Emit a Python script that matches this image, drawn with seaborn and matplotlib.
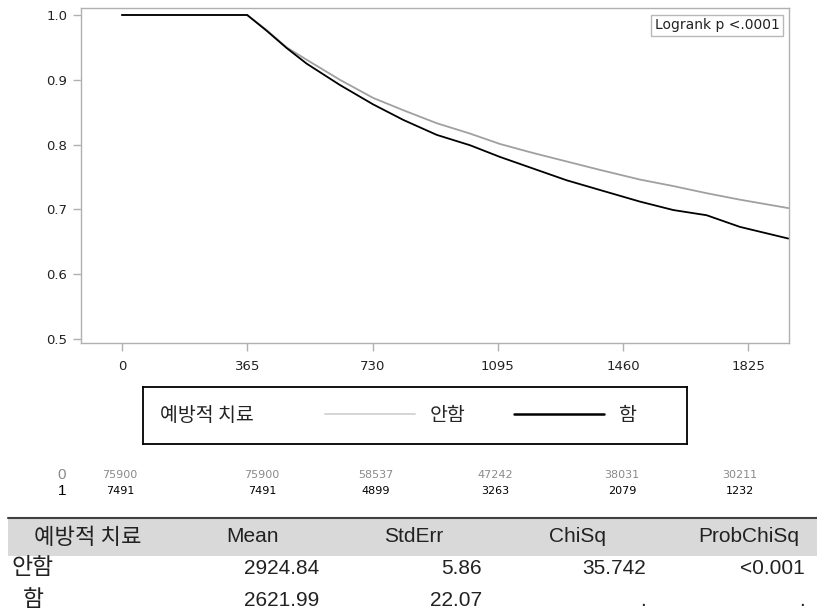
import matplotlib
matplotlib.use("Agg")
import matplotlib.pyplot as plt
from matplotlib.lines import Line2D
from matplotlib.patches import Rectangle
import seaborn as sns
import pandas as pd

# ---------------- data ----------------
days = [0, 365, 421, 480, 538, 635, 732, 820, 917, 1014, 1101, 1198, 1295,
        1392, 1509, 1606, 1703, 1800, 1941]
surv_no = [1.0, 1.0, 0.977, 0.950, 0.931, 0.900, 0.872, 0.853, 0.833, 0.817,
           0.801, 0.787, 0.774, 0.761, 0.746, 0.736, 0.725, 0.715, 0.702]
surv_yes = [1.0, 1.0, 0.976, 0.949, 0.925, 0.892, 0.862, 0.838, 0.815, 0.799,
            0.781, 0.763, 0.745, 0.730, 0.712, 0.699, 0.691, 0.673, 0.655]
groups = ["안함", "함"]
legend_title = "예방적 치료"
x_ticks = [0, 365, 730, 1095, 1460, 1825]
y_ticks = [0.5, 0.6, 0.7, 0.8, 0.9, 1.0]
logrank_text = "Logrank p <.0001"

risk_labels = ["0", "1"]
risk_0 = [75900, 75900, 58537, 47242, 38031, 30211]
risk_1 = [7491, 7491, 4899, 3263, 2079, 1232]

table_header = ["예방적 치료", "Mean", "StdErr", "ChiSq", "ProbChiSq"]
table_rows = ["안함", "함"]
table_mean = ["2924.84", "2621.99"]
table_stderr = ["5.86", "22.07"]
table_chisq = ["35.742", "."]
table_prob = ["<0.001", "."]

# ---------------- figure ----------------
W, H = 817, 613
sns.set_style("white")
plt.rcParams["font.family"] = ["DejaVu Sans", "Noto Sans CJK KR"]

fig = plt.figure(figsize=(W / 100, H / 100), dpi=100)
fig.patch.set_facecolor("white")


def fx(px):
    return px / W


def fy(py):
    return 1 - py / H


ax = fig.add_axes([fx(81), fy(343), fx(708), 335 / H])

df = pd.DataFrame({
    "day": days + days,
    "surv": surv_no + surv_yes,
    "group": [groups[0]] * len(days) + [groups[1]] * len(days),
})
sns.lineplot(data=df, x="day", y="surv", hue="group", hue_order=groups,
             palette={groups[0]: "#a0a0a0", groups[1]: "black"},
             linewidth=1.3, estimator=None, legend=False, ax=ax)

ax.set_xlim(-119, 1943)
ax.set_ylim(0.4938, 1.0108)
ax.set_xticks(x_ticks)
ax.set_xticklabels([str(v) for v in x_ticks])
ax.set_yticks(y_ticks)
ax.set_yticklabels([f"{v:.1f}" for v in y_ticks])
ax.set_xlabel("")
ax.set_ylabel("")
for s in ax.spines.values():
    s.set_color("#b0b0b0")
    s.set_linewidth(1.0)
ax.tick_params(bottom=True, left=True, direction="out", length=6, width=1,
               color="#b0b0b0", labelsize=9.5, labelcolor="#222222", pad=4)
ax.tick_params(axis="x", pad=6)

ax.text(0.9866, 0.9687, logrank_text, transform=ax.transAxes, ha="right",
        va="top", fontsize=10, color="#222222",
        bbox=dict(boxstyle="square,pad=0.25", fc="white", ec="#b8b8b8", lw=1))

# ---------------- legend box ----------------
lax = fig.add_axes([fx(143), fy(444), fx(544), 57 / H])
lax.set_xticks([])
lax.set_yticks([])
lax.set_facecolor("white")
for s in lax.spines.values():
    s.set_color("black")
    s.set_linewidth(1.3)
    s.set_visible(True)
lax.text(17 / 544, 0.5, legend_title, transform=lax.transAxes, ha="left",
         va="center", fontsize=14, family=["Noto Sans CJK KR"], color="#222222")
handles = [Line2D([], [], color="#d2d2d2", lw=1.3),
           Line2D([], [], color="black", lw=1.8)]
lax.legend(handles, groups, ncol=2, loc="center left",
           bbox_to_anchor=((325 - 143) / 544, 0.5), frameon=False,
           borderpad=0, borderaxespad=0, handlelength=4.64,
           handletextpad=0.77, columnspacing=2.47,
           prop={"family": ["Noto Sans CJK KR"], "size": 14})

# ---------------- numbers at risk ----------------
risk_x = [120, 262, 376, 495, 622, 740]
for lab, vals, yy, col in [(risk_labels[0], risk_0, 475, "#8a8a8a"),
                           (risk_labels[1], risk_1, 491, "black")]:
    fig.text(fx(62), fy(yy), lab, ha="center", va="center", fontsize=11,
             family=["Liberation Sans Narrow", "Liberation Sans"], color=col)
    for xv, v in zip(risk_x, vals):
        fig.text(fx(xv), fy(yy), str(v), ha="center", va="center",
                 fontsize=8, color=col)

# ---------------- table ----------------
fig.patches.append(Rectangle((fx(8), fy(556)), fx(W - 8), 38 / H,
                             transform=fig.transFigure, fc="#d9d9d9",
                             ec="none", zorder=0))
fig.lines.append(Line2D([fx(8), 1], [fy(518), fy(518)],
                        transform=fig.transFigure, color="#404040", lw=1.5))

tfont = ["Liberation Sans", "Noto Sans CJK KR"]
kfont = ["Noto Sans CJK KR"]
hdr_x = [88, 253, 414, 577, 749]
for i, (xv, t) in enumerate(zip(hdr_x, table_header)):
    fig.text(fx(xv), fy(537), t, ha="center", va="center",
             fontsize=16 if i == 0 else 15,
             family=kfont if i == 0 else tfont, color="#222222")

val_x = [319, 482, 646, 805]
row_y = [568, 600]
for i, yy in enumerate(row_y):
    fig.text(fx(33), fy(yy), table_rows[i], ha="center", va="center",
             fontsize=16.5, family=kfont, color="#222222")
    for xv, col in zip(val_x, [table_mean, table_stderr, table_chisq, table_prob]):
        fig.text(fx(xv), fy(yy), col[i], ha="right", va="center", fontsize=15,
                 family=tfont, color="#222222")

fig.savefig("out.png", dpi=100)
